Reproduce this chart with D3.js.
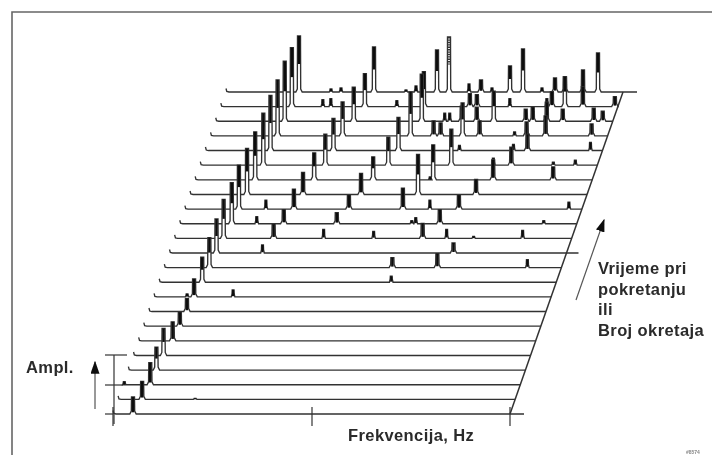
<!DOCTYPE html>
<html><head><meta charset="utf-8">
<script src="https://cdn.jsdelivr.net/npm/d3@7"></script>
<style>html,body{margin:0;padding:0;background:#fff}svg{display:block}text{font-family:"Liberation Sans",Arial,sans-serif;font-weight:bold;fill:#2b2b2b;letter-spacing:.4px}</style>
</head><body><svg id="c" width="712" height="455"></svg>
<script>
const r0  = [[20,17]];
const r1  = [[24,18],[77,1]];
const r2  = [[1,3],[27,22]];
const r3  = [[28,23]];
const r4  = [[30,27]];
const r5  = [[34,19]];
const r6  = [[36,14]];
const r7  = [[38,13]];
const r8  = [[33,3],[40,18],[79,7]];
const r9  = [[43,25],[232,6]];
const r10 = [[45,30],[228,10],[273,14],[363,8]];
const r11 = [[47,34],[93,8],[284,10]];
const r12 = [[49,39],[99,14],[149,9],[199,7],[248,15],[272,9],[299,2],[348,8]];
const r13 = [[52,41],[77,7],[104,14],[157,11],[232,3],[236,6],[260,14],[364,3]];
const r14 = [[54,44],[81,9],[109,20],[164,14],[218,21],[245,9],[274,14],[384,7]];
const r15 = [[57,46],[113,22],[171,21],[228,40],[286,15]];
const r16 = [[60,48],[119,27],[178,23],[235,3],[238,35],[298,20],[358,13]];
const r17 = [[63,52],[125,31],[188,28],[251,36],[293,7],[311,18],[353,3],[375,5]];
const r18 = [[65,55],[128,32],[193,33],[254,5],[308,6],[322,16],[385,8]];
const r19 = [[67,56],[132,34],[200,44],[223,15],[230,13],[252,33],[269,15],[304,4],[316,14],[335,20],[381,12]];
const r20 = [[69,60],[138,34],[206,47],[229,8],[234,8],[246,15],[261,14],[278,30],[310,12],[317,14],[331,19],[347,12],[378,13],[387,10]];
const r21 = [[71,59],[102,7],[110,8],[144,33],[176,6],[203,35],[249,13],[256,12],[289,8],[326,8],[331,15],[344,30],[362,20],[394,10]];
const r22 = [[73,56],[105,3],[115,4],[128,4],[148,45],[180,2],[190,6],[211,42],[223,55],[243,8],[255,12],[266,4],[284,26],[297,43],[316,4],[329,14],[339,15],[357,22],[372,39]];
const spectra = [r0,r1,r2,r3,r4,r5,r6,r7,r8,r9,r10,r11,r12,r13,r14,r15,r16,r17,r18,r19,r20,r21,r22];
const rowOverrun = {0:14, 11:12, 22:14};
const hatchedPeak = {row:22, freq:223};
const timeLabels = ["Vrijeme pri","pokretanju","ili","Broj okretaja"];
const freqTicks = [0,199,397];

const svg = d3.select("#c");
const defs = svg.append("defs");
defs.append("filter").attr("id","soft").attr("x","-5%").attr("y","-5%").attr("width","110%").attr("height","110%")
  .append("feGaussianBlur").attr("stdDeviation",0.5);
const marker = defs.append("marker").attr("id","head").attr("viewBox","0 0 10 10").attr("preserveAspectRatio","none").attr("refX",9).attr("refY",5)
  .attr("markerWidth",13).attr("markerHeight",9).attr("markerUnits","userSpaceOnUse").attr("orient","auto");
marker.append("path").attr("d","M0,0L10,5L0,10Z").attr("fill","#111");

const xF = d3.scaleLinear().domain([0,397]).range([0,397]);
const yA = d3.scaleLinear().domain([0,60]).range([0,60]);
const skew = d3.scaleLinear().domain([0,22]).range([113,226]);
const yR = d3.scaleLinear().domain([0,22]).range([414,92]);

const g = svg.append("g").attr("filter","url(#soft)");

// frame
g.append("path").attr("d","M12,455V12H712").attr("fill","none").attr("stroke","#666").attr("stroke-width",1.6);

const lineGen = d3.line().x(d=>d[0]).y(d=>d[1]);
const areaGen = d3.area().x(d=>d[0]).y1(d=>d[1]);

// spectra back to front with hidden-line removal
d3.range(spectra.length-1,-1,-1).forEach(r=>{
  const base = yR(r), off = skew(r);
  const X = f=>off+xF(f);
  const peaks = spectra[r].slice().sort((a,b)=>a[0]-b[0]);
  const pts = [[X(0),base-3.5],[X(0)+0.8,base-0.5],[X(3),base]];
  peaks.forEach(([f,a])=>{
    const h = yA(a), w = h>9?3.2:1.8, t = h>9?1.5:0.9;
    pts.push([X(f)-w,base],[X(f)-t-0.2,base-Math.min(3,h*0.5)],[X(f)-t,base-h],[X(f)+t,base-h],[X(f)+t+0.2,base-Math.min(3,h*0.5)],[X(f)+w,base]);
  });
  pts.push([X(397)+(rowOverrun[r]||0),base]);
  const row = g.append("g");
  areaGen.y0(base);
  row.append("path").attr("d",areaGen(pts)).attr("fill","#fff");
  row.append("path").attr("d",lineGen(pts)).attr("fill","none").attr("stroke","#333").attr("stroke-width",1.35);
  row.selectAll("line.top").data(peaks).join("line")
    .attr("x1",d=>X(d[0])).attr("x2",d=>X(d[0]))
    .attr("y1",d=>base-yA(d[1])).attr("y2",d=>base-yA(d[1])*(d[1]>22?0.5:0.1))
    .attr("stroke",d=>(r===hatchedPeak.row&&d[0]===hatchedPeak.freq)?"#333":"#111")
    .attr("stroke-dasharray",d=>(r===hatchedPeak.row&&d[0]===hatchedPeak.freq)?"1.4 1":null)
    .attr("stroke-width",d=>d[1]>9?2.5:2.2);
});

// diagonal time axis
g.append("line").attr("x1",skew(0)+xF(397)).attr("y1",yR(0)).attr("x2",skew(22)+xF(397)).attr("y2",yR(22)).attr("stroke","#333").attr("stroke-width",1.5);

// frequency ticks and amplitude axis
const ax = g.append("g").attr("stroke","#333").attr("stroke-width",1.2);
ax.selectAll("line.f").data(freqTicks).join("line")
  .attr("x1",d=>skew(0)+xF(d)).attr("x2",d=>skew(0)+xF(d)).attr("y1",407).attr("y2",426);
ax.append("line").attr("x1",105).attr("x2",skew(0)).attr("y1",yR(0)).attr("y2",yR(0));
ax.append("line").attr("x1",114).attr("x2",114).attr("y1",355).attr("y2",424);
ax.append("line").attr("x1",105).attr("x2",127).attr("y1",355).attr("y2",355);
ax.append("line").attr("x1",105).attr("x2",123).attr("y1",385).attr("y2",385);

// arrows
g.append("line").attr("x1",95).attr("y1",409).attr("x2",95).attr("y2",362).attr("stroke","#555").attr("stroke-width",1.2).attr("marker-end","url(#head)");
g.append("line").attr("x1",576).attr("y1",300).attr("x2",604).attr("y2",220).attr("stroke","#555").attr("stroke-width",1.2).attr("marker-end","url(#head)");

// labels
const t = svg.append("g").attr("filter","url(#soft)");
t.append("text").attr("x",26).attr("y",373).attr("font-size",16.5).text("Ampl.");
t.append("text").attr("x",348).attr("y",441).attr("font-size",16.5).text("Frekvencija, Hz");
t.selectAll("text.tl").data(timeLabels).join("text").attr("class","tl")
  .attr("x",598).attr("y",(d,i)=>274+i*20.7).attr("font-size",16.5).text(d=>d);
t.append("text").attr("x",686).attr("y",454).attr("font-size",5).style("fill","#888").style("letter-spacing","0").text("#8574");
</script></body></html>
